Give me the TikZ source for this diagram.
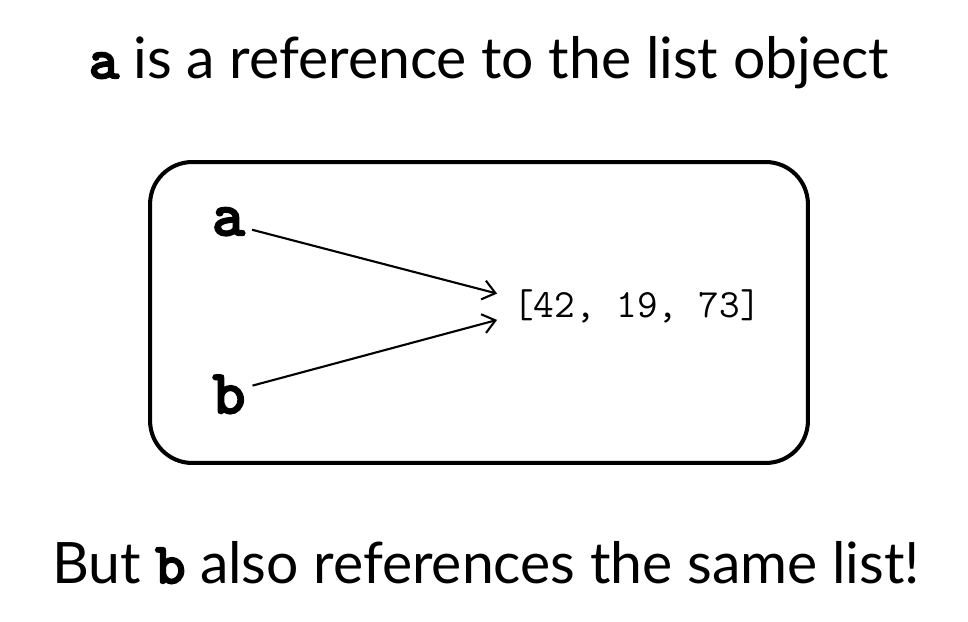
\documentclass[tikz,border=0pt]{standalone}
\usepackage{fontspec}
\setmainfont{Lato}
\newfontfamily\codebf{lmmono10-regular.otf}[FakeBold=4]
\usetikzlibrary{positioning,arrows.meta}
\tikzset{
  caption/.style={font=\fontsize{32.5}{38}\selectfont, inner sep=0pt, anchor=base},
  varname/.style={font=\fontsize{35}{40}\selectfont\codebf, inner sep=4pt, anchor=base},
  listval/.style={font=\fontsize{22.8}{27}\selectfont\ttfamily, inner xsep=9pt, inner ysep=0pt, anchor=base},
  frame/.style={draw, line width=2.3pt, rounded corners=24pt, minimum width=13.16cm, minimum height=6.02cm},
  ref/.style={-{Straight Barb[length=7pt,width=11pt]}, line width=1.2pt},
}

\begin{document}
\begin{tikzpicture}[x=0.02cm, y=-0.02cm]
    \useasboundingbox (0,0) rectangle (968,622);
    \node[caption] (top) at (489, 78) {{\codebf a} is a reference to the list object};
    \node[frame] (frame) at (479, 312.5) {};
    \node[varname] (a) at (228.5, 235) {a};
    \node[varname] (b) at (229, 413) {b};
    \node[listval] (lst) at (637, 317) {[42, 19, 73]};
    \draw[ref] ([yshift=3pt]a.base east) -- ([yshift=7pt]lst.west);
    \draw[ref] ([yshift=5pt]b.east) -- ([yshift=-8pt]lst.west);
    \node[caption] (bottom) at (486, 583) {But {\codebf b} also references the same list!};
\end{tikzpicture}
\end{document}
